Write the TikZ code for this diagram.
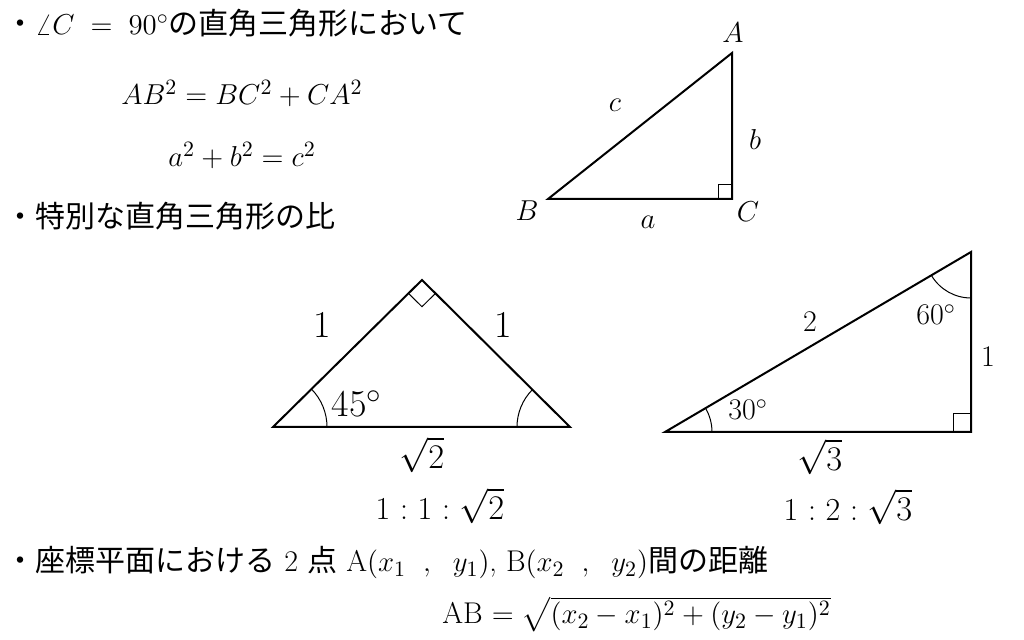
\documentclass[tikz,border=0pt]{standalone}
\usepackage{fontspec}
\usepackage{amsmath}
\usetikzlibrary{angles}
\newfontfamily\jp{Noto Sans CJK JP}

\tikzset{
  txt/.style={anchor=base west,inner sep=0pt,font=\fontsize{15}{18}\selectfont},
  eqn/.style={anchor=base,inner sep=0pt,font=\fontsize{15}{18}\selectfont},
  vlbl/.style={inner sep=0pt,font=\fontsize{14}{16}\selectfont},
  side/.style={inner sep=0pt,font=\fontsize{19}{22}\selectfont},
  root/.style={inner sep=0pt,font=\fontsize{17}{20}\selectfont},
  sidesm/.style={inner sep=0pt,font=\fontsize{15}{18}\selectfont},
  ratio/.style={inner sep=0pt,font=\fontsize{16}{19}\selectfont},
  tri/.style={line width=1pt,line join=miter},
  arcmark/.style={draw,line width=0.5pt},
}

\begin{document}
\begin{tikzpicture}[x=0.5pt,y=0.5pt]
    \useasboundingbox (0,0) rectangle (1024,-640);

    % Pythagoras text
    \node[txt] (head1) at (5,-35) {{\jp ・}$\angle C\;=\;90^\circ${\jp の直角三角形において}};
    \node[eqn] (pyth1) at (242,-105) {$AB^2=BC^2+CA^2$};
    \node[eqn] (pyth2) at (242,-167) {$a^2+b^2=c^2$};
    \node[txt] (head2) at (5,-228) {{\jp ・特別な直角三角形の比}};

    % Triangle ABC, right angle at C
    \coordinate (A) at (732,-53);
    \coordinate (B) at (548,-199);
    \coordinate (C) at (732,-199);
    \draw[tri] (A) -- (B) -- (C) -- cycle;
    \pic[arcmark,angle radius=7pt] {right angle=A--C--B};
    \node[vlbl] (lA) at (733,-33) {$A$};
    \node[vlbl] (lB) at (527,-211) {$B$};
    \node[vlbl] (lC) at (748,-212) {$C$};
    \node[vlbl] (la) at (648,-222) {$a$};
    \node[vlbl] (lb) at (755,-140) {$b$};
    \node[vlbl] (lc) at (615,-105) {$c$};

    % 45-45-90 triangle
    \coordinate (L) at (273,-427);
    \coordinate (T) at (422,-280);
    \coordinate (R) at (570,-427);
    \draw[tri] (L) -- (T) -- (R) -- cycle;
    \pic[arcmark,angle radius=9.5pt] {right angle=L--T--R};
    \pic[arcmark,angle radius=27pt] {angle=R--L--T};
    \pic[arcmark,angle radius=26.5pt] {angle=T--R--L};
    \node[side] (s1) at (322,-325) {1};
    \node[side] (s2) at (503,-325) {1};
    \node[side] (d45) at (357,-404) {45$^\circ$};
    \node[root] (s3) at (422,-455) {$\sqrt{2}$};
    \node[ratio] (r1) at (440,-506) {1\ :\ 1\ :\ $\sqrt{2}$};

    % 30-60-90 triangle
    \coordinate (P) at (665,-432);
    \coordinate (Q) at (971,-252);
    \coordinate (S) at (971,-432);
    \draw[tri] (P) -- (Q) -- (S) -- cycle;
    \pic[arcmark,angle radius=9pt] {right angle=Q--S--P};
    \pic[arcmark,angle radius=23.5pt] {angle=S--P--Q};
    \pic[arcmark,angle radius=23pt] {angle=P--Q--S};
    \node[sidesm] (t1) at (810,-322) {2};
    \node[sidesm] (d60) at (936,-315) {60$^\circ$};
    \node[sidesm] (t2) at (988,-357) {1};
    \node[sidesm] (d30) at (748,-410) {30$^\circ$};
    \node[root] (t3) at (820,-457) {$\sqrt{3}$};
    \node[ratio] (r2) at (848,-507) {1\ :\ 2\ :\ $\sqrt{3}$};

    % Distance between two points
    \node[txt] (head3) at (5,-572) {{\jp ・座標平面における} 2 {\jp 点} A$(x_1\;\ ,\;\ y_1)$, B$(x_2\;\ ,\;\ y_2)${\jp 間の距離}};
    \node[txt] (dist) at (442,-624) {AB $=\sqrt{(x_2-x_1)^2+(y_2-y_1)^2}$};
\end{tikzpicture}
\end{document}
